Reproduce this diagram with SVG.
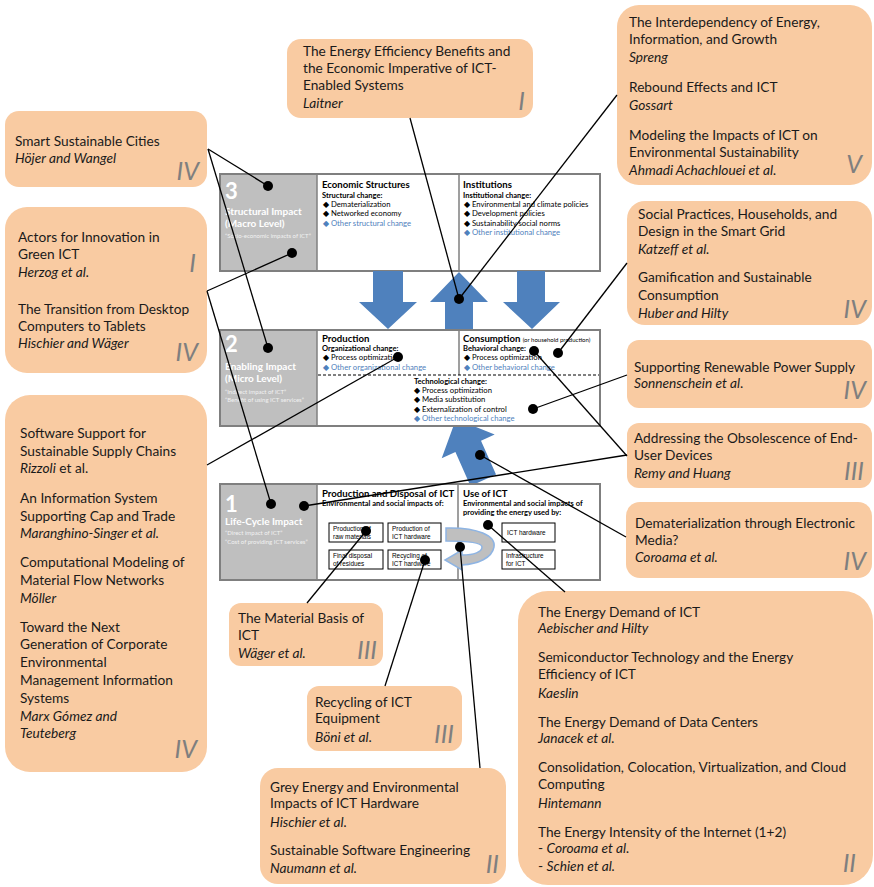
<svg xmlns="http://www.w3.org/2000/svg" width="874" height="887" viewBox="0 0 874 887">
<style>
.box{fill:#F9CBA2}
.t{font-family:Lato,"Liberation Sans",sans-serif;font-size:13.7px;fill:#1a1a1a}
.i{font-style:italic}
.rn{font-family:Lato,"Liberation Sans",sans-serif;font-style:italic;font-size:25px;fill:#7f7f7f;text-anchor:end}
.frame{fill:#fff;stroke:#7f7f7f;stroke-width:2}
.panel{fill:#bfbfbf}
.div{stroke:#7f7f7f;stroke-width:1.5}
.pn{font-family:Lato,"Liberation Sans",sans-serif;font-weight:bold;font-size:22px;fill:#fff}
.pt{font-family:Lato,"Liberation Sans",sans-serif;font-weight:bold;font-size:10px;fill:#fff}
.ps{font-family:Lato,"Liberation Sans",sans-serif;font-size:6px;fill:#f2f2f2}
.h{font-family:Lato,"Liberation Sans",sans-serif;font-weight:bold;font-size:9.6px;fill:#000}
.hs{font-family:Lato,"Liberation Sans",sans-serif;font-weight:normal;font-size:6px}
.sh{font-family:Lato,"Liberation Sans",sans-serif;font-weight:bold;font-size:7.5px;fill:#000}
.it{font-family:Lato,"Liberation Sans",sans-serif;font-size:7.7px;fill:#000}
.blue{fill:#4F81BD}
.sb{fill:#fff;stroke:#000;stroke-width:1}
.st{font-family:"Liberation Sans",Arial,sans-serif;font-size:6.4px;fill:#000}
.arr{fill:#4F81BD}
.c line{stroke:#000;stroke-width:1.3}
.c circle{fill:#000}
</style>

<!-- Level 3 -->
<g id="level3">
<rect class="frame" x="220" y="174" width="380" height="97"/>
<rect class="panel" x="221" y="175" width="96" height="95"/>
<line class="div" x1="317" y1="174" x2="317" y2="271"/>
<line class="div" x1="459" y1="174" x2="459" y2="271"/>
<text class="pn" x="225" y="199">3</text>
<text class="pt" x="225" y="215">Structural Impact</text>
<text class="pt" x="225" y="227">(Macro Level)</text>
<text class="ps" x="225" y="238">“Socio-economic impacts of ICT”</text>
<text class="h" x="322" y="188">Economic Structures</text>
<text class="sh" x="322" y="198">Structural change:</text>
<text class="it" x="323" y="207">◆ Dematerialization</text>
<text class="it" x="323" y="216">◆ Networked economy</text>
<text class="it blue" x="323" y="226">◆ Other structural change</text>
<text class="h" x="463" y="188">Institutions</text>
<text class="sh" x="463" y="198">Institutional change:</text>
<text class="it" x="464" y="207">◆ Environmental and climate policies</text>
<text class="it" x="464" y="216">◆ Development policies</text>
<text class="it" x="464" y="226">◆ Sustainability social norms</text>
<text class="it blue" x="464" y="235">◆ Other institutional change</text>
</g>

<!-- Arrows between levels -->
<g id="arrows">
<polygon class="arr" points="373,271 403,271 403,302 417,302 388,329 359,302 373,302"/>
<polygon class="arr" points="445,329 473,329 473,302 488,302 459,272 430,302 445,302"/>
<polygon class="arr" points="517,271 545,271 545,302 560,302 532,329 503,302 517,302"/>
<polygon class="arr" transform="translate(456,419) rotate(-24)" points="0,0 29,30 14,30 14,67 -14,67 -14,30 -29,30"/>
</g>

<!-- Level 2 -->
<g id="level2">
<rect class="frame" x="220" y="330" width="380" height="96"/>
<rect class="panel" x="221" y="331" width="96" height="94"/>
<line class="div" x1="317" y1="330" x2="317" y2="426"/>
<line class="div" x1="459" y1="330" x2="459" y2="375"/>
<line x1="318" y1="375" x2="599" y2="375" stroke="#000" stroke-width="1" stroke-dasharray="3,2"/>
<text class="pn" x="225" y="352">2</text>
<text class="pt" x="225" y="370">Enabling Impact</text>
<text class="pt" x="225" y="382">(Micro Level)</text>
<text class="ps" x="225" y="394">“Indirect impact of ICT”</text>
<text class="ps" x="225" y="402">“Benefit of using ICT services”</text>
<text class="h" x="322" y="342">Production</text>
<text class="sh" x="322" y="351">Organizational change:</text>
<text class="it" x="323" y="360">◆ Process optimization</text>
<text class="it blue" x="323" y="370">◆ Other organizational change</text>
<text class="h" x="463" y="342">Consumption <tspan class="hs">(or household production)</tspan></text>
<text class="sh" x="463" y="351">Behavioral change:</text>
<text class="it" x="464" y="360">◆ Process optimization</text>
<text class="it blue" x="464" y="370">◆ Other behavioral change</text>
<text class="sh" x="414" y="384">Technological change:</text>
<text class="it" x="414" y="393">◆ Process optimization</text>
<text class="it" x="414" y="402">◆ Media substitution</text>
<text class="it" x="414" y="412">◆ Externalization of control</text>
<text class="it blue" x="414" y="421">◆ Other technological change</text>
</g>

<!-- Level 1 -->
<g id="level1">
<rect class="frame" x="220" y="484" width="380" height="96"/>
<rect class="panel" x="221" y="485" width="96" height="94"/>
<line class="div" x1="317" y1="484" x2="317" y2="580"/>
<line class="div" x1="458" y1="484" x2="458" y2="580"/>
<text class="pn" x="225" y="512">1</text>
<text class="pt" x="225" y="525">Life-Cycle Impact</text>
<text class="ps" x="225" y="535">“Direct impact of ICT”</text>
<text class="ps" x="225" y="544">“Cost of providing ICT services”</text>
<text class="h" x="322" y="497">Production and Disposal of ICT</text>
<text class="sh" x="322" y="506">Environmental and social impacts of:</text>
<text class="h" x="463" y="497">Use of ICT</text>
<text class="sh" x="463" y="506">Environmental and social impacts of</text>
<text class="sh" x="463" y="515">providing the energy used by:</text>
<rect class="sb" x="329" y="523" width="54" height="19"/>
<text class="st" x="333" y="531">Production of</text><text class="st" x="333" y="539">raw materials</text>
<rect class="sb" x="388" y="523" width="53" height="19"/>
<text class="st" x="392" y="531">Production of</text><text class="st" x="392" y="539">ICT hardware</text>
<rect class="sb" x="329" y="550" width="54" height="19"/>
<text class="st" x="333" y="558">Final disposal</text><text class="st" x="333" y="566">of residues</text>
<rect class="sb" x="388" y="550" width="53" height="19"/>
<text class="st" x="392" y="558">Recycling of</text><text class="st" x="392" y="566">ICT hardware</text>
<rect class="sb" x="502" y="523" width="53" height="19"/>
<text class="st" x="507" y="535">ICT hardware</text>
<rect class="sb" x="502" y="550" width="53" height="19"/>
<text class="st" x="506" y="558">Infrastructure</text><text class="st" x="506" y="566">for ICT</text>
<path d="M446,528 C478,527 496,536 494,547 C492,558 478,564 462,565 L462,570 L445,560 L462,550 L462,555 C474,555 482,552 482,547 C482,543 470,541 446,541 Z" fill="#bfbfbf" stroke="#8eb4e3" stroke-width="1.5"/>
</g>

<!-- Callouts -->
<g id="laitner">
<rect class="box" x="287" y="39" width="246" height="79" rx="14"/>
<text class="t" x="303" y="56">The Energy Efficiency Benefits and</text>
<text class="t" x="303" y="73">the Economic Imperative of ICT-</text>
<text class="t" x="303" y="90">Enabled Systems</text>
<text class="t i" x="303" y="108">Laitner</text>
<text class="rn" x="525" y="110">I</text>
</g>

<g id="spreng">
<rect class="box" x="617" y="5" width="255" height="180" rx="22"/>
<text class="t" x="629" y="27">The Interdependency of Energy,</text>
<text class="t" x="629" y="44">Information, and Growth</text>
<text class="t i" x="629" y="62">Spreng</text>
<text class="t" x="629" y="92">Rebound Effects and ICT</text>
<text class="t i" x="629" y="110">Gossart</text>
<text class="t" x="629" y="140">Modeling the Impacts of ICT on</text>
<text class="t" x="629" y="157">Environmental Sustainability</text>
<text class="t i" x="629" y="175">Ahmadi Achachlouei et al.</text>
<text class="rn" x="862" y="173">V</text>
</g>

<g id="hojer">
<rect class="box" x="5" y="111" width="202" height="76" rx="14"/>
<text class="t" x="15" y="146">Smart Sustainable Cities</text>
<text class="t i" x="15" y="163">Höjer and Wangel</text>
<text class="rn" x="199" y="180">IV</text>
</g>

<g id="herzog">
<rect class="box" x="5" y="207" width="202" height="166" rx="22"/>
<text class="t" x="18" y="242">Actors for Innovation in</text>
<text class="t" x="18" y="259">Green ICT</text>
<text class="t i" x="18" y="277">Herzog et al.</text>
<text class="t" x="18" y="314">The Transition from Desktop</text>
<text class="t" x="18" y="331">Computers to Tablets</text>
<text class="t i" x="18" y="348">Hischier and Wäger</text>
<text class="rn" x="196" y="272">I</text>
<text class="rn" x="198" y="361">IV</text>
</g>

<g id="katzeff">
<rect class="box" x="627" y="201" width="245" height="124" rx="18"/>
<text class="t" x="638" y="219">Social Practices, Households, and</text>
<text class="t" x="638" y="236">Design in the Smart Grid</text>
<text class="t i" x="638" y="254">Katzeff et al.</text>
<text class="t" x="638" y="282">Gamification and Sustainable</text>
<text class="t" x="638" y="300">Consumption</text>
<text class="t i" x="638" y="318">Huber and Hilty</text>
<text class="rn" x="866" y="318">IV</text>
</g>

<g id="sonnenschein">
<rect class="box" x="627" y="340" width="245" height="68" rx="12"/>
<text class="t" x="634" y="372">Supporting Renewable Power Supply</text>
<text class="t" x="634" y="388"><tspan class="i">Sonnenschein et al</tspan>.</text>
<text class="rn" x="866" y="399">IV</text>
</g>

<g id="remy">
<rect class="box" x="627" y="423" width="245" height="65" rx="12"/>
<text class="t" x="634" y="443">Addressing the Obsolescence of End-</text>
<text class="t" x="634" y="460">User Devices</text>
<text class="t i" x="634" y="478">Remy and Huang</text>
<text class="rn" x="864" y="480">III</text>
</g>

<g id="coroama">
<rect class="box" x="626" y="502" width="246" height="76" rx="14"/>
<text class="t" x="635" y="528">Dematerialization through Electronic</text>
<text class="t" x="635" y="545">Media?</text>
<text class="t i" x="635" y="562">Coroama et al.</text>
<text class="rn" x="866" y="570">IV</text>
</g>

<g id="rizzoli">
<rect class="box" x="5" y="395" width="202" height="377" rx="25"/>
<text class="t" x="20" y="438">Software Support for</text>
<text class="t" x="20" y="456">Sustainable Supply Chains</text>
<text class="t" x="20" y="473"><tspan class="i">Rizzoli</tspan> et al.</text>
<text class="t" x="20" y="503">An Information System</text>
<text class="t" x="20" y="521">Supporting Cap and Trade</text>
<text class="t i" x="20" y="538">Maranghino-Singer et al.</text>
<text class="t" x="20" y="567">Computational Modeling of</text>
<text class="t" x="20" y="585">Material Flow Networks</text>
<text class="t i" x="20" y="603">Möller</text>
<text class="t" x="20" y="632">Toward the Next</text>
<text class="t" x="20" y="649">Generation of Corporate</text>
<text class="t" x="20" y="667">Environmental</text>
<text class="t" x="20" y="685">Management Information</text>
<text class="t" x="20" y="703">Systems</text>
<text class="t i" x="20" y="721">Marx Gómez and</text>
<text class="t i" x="20" y="738">Teuteberg</text>
<text class="rn" x="197" y="758">IV</text>
</g>

<g id="wager">
<rect class="box" x="229" y="603" width="154" height="63" rx="12"/>
<text class="t" x="238" y="623">The Material Basis of</text>
<text class="t" x="238" y="640">ICT</text>
<text class="t i" x="238" y="658">Wäger et al.</text>
<text class="rn" x="377" y="659">III</text>
</g>

<g id="boni">
<rect class="box" x="307" y="686" width="155" height="65" rx="12"/>
<text class="t" x="315" y="707">Recycling of ICT</text>
<text class="t" x="315" y="723">Equipment</text>
<text class="t" x="315" y="742"><tspan class="i">Böni et al</tspan>.</text>
<text class="rn" x="454" y="743">III</text>
</g>

<g id="hischier">
<rect class="box" x="260" y="768" width="246" height="116" rx="18"/>
<text class="t" x="270" y="792">Grey Energy and Environmental</text>
<text class="t" x="270" y="808">Impacts of ICT Hardware</text>
<text class="t i" x="270" y="827">Hischier et al.</text>
<text class="t" x="270" y="855">Sustainable Software Engineering</text>
<text class="t i" x="270" y="873">Naumann et al.</text>
<text class="rn" x="499" y="873">II</text>
</g>

<g id="aebischer">
<rect class="box" x="518" y="591" width="355" height="294" rx="30"/>
<text class="t" x="538" y="617">The Energy Demand of ICT</text>
<text class="t i" x="538" y="633">Aebischer and Hilty</text>
<text class="t" x="538" y="662">Semiconductor Technology and the Energy</text>
<text class="t" x="538" y="679">Efficiency of ICT</text>
<text class="t i" x="538" y="698">Kaeslin</text>
<text class="t" x="538" y="727">The Energy Demand of Data Centers</text>
<text class="t i" x="538" y="743">Janacek et al.</text>
<text class="t" x="538" y="772">Consolidation, Colocation, Virtualization, and Cloud</text>
<text class="t" x="538" y="789">Computing</text>
<text class="t i" x="538" y="808">Hintemann</text>
<text class="t" x="538" y="837">The Energy Intensity of the Internet (1+2)</text>
<text class="t" x="538" y="853">- <tspan class="i">Coroama et al.</tspan></text>
<text class="t" x="538" y="871">- <tspan class="i">Schien et al.</tspan></text>
<text class="rn" x="856" y="872">II</text>
</g>

<!-- Connectors -->
<g id="connectors" class="c">
<line x1="208" y1="149" x2="268" y2="186"/><circle cx="268" cy="186" r="5"/>
<line x1="208" y1="149" x2="268" y2="348"/><circle cx="268" cy="348" r="5"/>
<line x1="207" y1="291" x2="292" y2="253"/><circle cx="292" cy="253" r="5"/>
<line x1="207" y1="291" x2="271" y2="504"/><circle cx="271" cy="504" r="5"/>
<line x1="207" y1="465" x2="398" y2="357"/><circle cx="398" cy="357" r="5"/>
<line x1="410" y1="118" x2="459" y2="299"/>
<line x1="617" y1="95" x2="459" y2="299"/><circle cx="459" cy="299" r="5"/>
<line x1="627" y1="263" x2="558" y2="353"/><circle cx="558" cy="353" r="5"/>
<line x1="627" y1="375" x2="533" y2="409"/><circle cx="533" cy="409" r="5"/>
<line x1="627" y1="456" x2="534" y2="351"/><circle cx="534" cy="351" r="5"/>
<line x1="627" y1="455" x2="304" y2="506"/><circle cx="304" cy="506" r="5"/>
<line x1="626" y1="537" x2="480" y2="455"/><circle cx="480" cy="455" r="5"/>
<line x1="565" y1="592" x2="488" y2="525"/><circle cx="488" cy="525" r="5"/>
<line x1="307" y1="603" x2="366" y2="531"/><circle cx="366" cy="531" r="5"/>
<line x1="385" y1="686" x2="425" y2="560"/><circle cx="425" cy="560" r="5"/>
<line x1="480" y1="768" x2="460" y2="547"/><circle cx="460" cy="547" r="5"/>
</g>
</svg>
